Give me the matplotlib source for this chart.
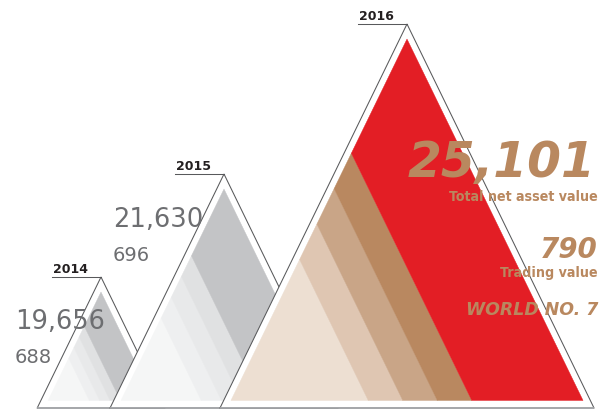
import matplotlib
matplotlib.use("Agg")
import matplotlib.pyplot as plt
from matplotlib.patches import Polygon

# ---------------- data ----------------
years = ["2014", "2015", "2016"]
net_asset_values = [19656, 21630, 25101]
trading_values = [688, 696, 790]
stripe_bounds = [0.39, 0.488, 0.586, 0.684]   # band boundaries along the base (fraction)
ranking_text = "WORLD NO. 7"

# ---------------- layout / style ----------------
W, H = 600, 412
apex_x = [101, 224, 407]
apex_y = [277, 174, 24]
base_y = 408
inner_base_y = 400.5
inner_gap = 15
ratio = 0.487
label_len = 49

gray_colors = ["#F5F6F6", "#EEEFF0", "#E8E9EA", "#E0E1E2", "#C3C4C6"]
brown_colors = ["#EDDFD2", "#DFC6B2", "#C9A587", "#B98860", "#E31E25"]
palettes = [gray_colors, gray_colors, brown_colors]
outline_col = "#58595B"
num_gray = "#6D6E71"
brown = "#B9885F"

cond_kw = dict(family=["DejaVu Sans"], fontstretch="condensed")

fig = plt.figure(figsize=(W / 100, H / 100), dpi=100)
ax = fig.add_axes([0, 0, 1, 1])
ax.set_xlim(0, W)
ax.set_ylim(H, 0)
ax.axis("off")


def band_polys(cx, top, bottom, half):
    left = (cx - half, bottom)
    right = (cx + half, bottom)

    def base_pt(f):
        return (left[0] + f * (right[0] - left[0]), bottom)

    def left_pt(t):  # t=0 apex, t=1 bottom-left
        return (cx - t * half, top + t * (bottom - top))

    fs = [0.0] + stripe_bounds + [1.0]
    polys = []
    for fa, fb in zip(fs[:-1], fs[1:]):
        polys.append([base_pt(fa), base_pt(fb), left_pt(1 - fb), left_pt(1 - fa)])
    return polys


for i, yr in enumerate(years):
    z = 10 * (i + 1)
    cx, top = apex_x[i], apex_y[i]
    half = ratio * (base_y - top)
    outer = Polygon([(cx - half, base_y), (cx, top), (cx + half, base_y)],
                    closed=True, facecolor="white", edgecolor="none", zorder=z)
    ax.add_patch(outer)
    ax.plot([cx - half, cx, cx + half], [base_y, top, base_y],
            color=outline_col, lw=0.75, zorder=z + 3, solid_joinstyle="miter")
    ax.plot([cx - half, cx + half], [base_y, base_y], color="#9D9FA2",
            lw=1.3, zorder=z + 3, solid_capstyle="butt")
    ax.plot([cx - label_len, cx], [top, top], color=outline_col, lw=0.75, zorder=z + 3)
    ax.text(cx - label_len + 1, top - 4, yr, fontsize=9, fontweight="bold",
            color="#231F20", ha="left", va="baseline", zorder=z + 4)
    itop = top + inner_gap
    ihalf = ratio * (inner_base_y - itop)
    for poly, col in zip(band_polys(cx, itop, inner_base_y, ihalf), palettes[i]):
        ax.add_patch(Polygon(poly, closed=True, facecolor=col, edgecolor=col,
                             lw=0.3, zorder=z + 1))

big_pos = [(15, 329), (113, 227)]
small_pos = [(15, 363), (113, 261)]
for i in range(2):
    ax.text(*big_pos[i], f"{net_asset_values[i]:,}", fontsize=18.5, color=num_gray,
            family="DejaVu Sans", ha="left", va="baseline", zorder=100)
    ax.text(*small_pos[i], f"{trading_values[i]:,}", fontsize=14, color=num_gray,
            family="DejaVu Sans", ha="left", va="baseline", zorder=100)

ax.text(596, 177, f"{net_asset_values[2]:,}", fontsize=35, fontweight="bold",
        fontstyle="italic", family="DejaVu Sans", color=brown, ha="right",
        va="baseline", zorder=100)
ax.text(598, 201, "Total net asset value", fontsize=10.2, fontweight="bold",
        color=brown, ha="right", va="baseline", zorder=100, **cond_kw)
ax.text(598, 258, f"{trading_values[2]:,}", fontsize=20, fontweight="bold",
        fontstyle="italic", family="DejaVu Sans", color=brown, ha="right",
        va="baseline", zorder=100)
ax.text(598, 277, "Trading value", fontsize=10.2, fontweight="bold",
        color=brown, ha="right", va="baseline", zorder=100, **cond_kw)
ax.text(598, 315, ranking_text, fontsize=12.5, fontweight="bold",
        fontstyle="italic", family="DejaVu Sans", color=brown, ha="right",
        va="baseline", zorder=100)

fig.savefig("out.png", dpi=100)
